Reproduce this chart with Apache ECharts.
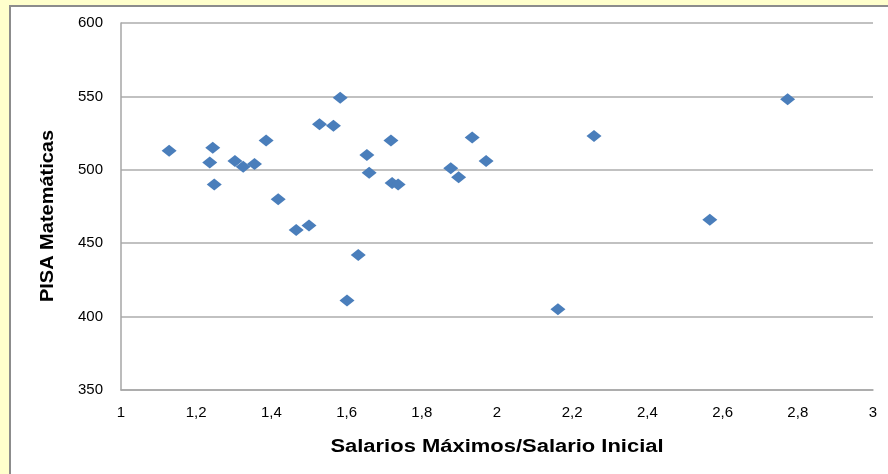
<!DOCTYPE html>
<html>
<head>
<meta charset="utf-8">
<script src="https://cdn.jsdelivr.net/npm/echarts@6/dist/echarts.min.js"></script>
<style>
  html, body { margin: 0; padding: 0; background: #FFFFCC; }
  #chart { width: 888px; height: 474px; }
</style>
</head>
<body>
<div id="chart"></div>
<script>
// Ratio of maximum to starting teacher salary (x) vs PISA mathematics score (y)
const salaryRatio = [
  1.128, 1.236, 1.244, 1.248, 1.303, 1.325, 1.355, 1.386, 1.418, 1.466,
  1.500, 1.528, 1.565, 1.583, 1.601, 1.631, 1.654, 1.660, 1.718, 1.721,
  1.737, 1.877, 1.898, 1.934, 1.971, 2.162, 2.258, 2.566, 2.773
];
const pisaMath = [
  513, 505, 515, 490, 506, 502, 504, 520, 480, 459,
  462, 531, 530, 549, 411, 442, 510, 498, 520, 491,
  490, 501, 495, 522, 506, 405, 523, 466, 548
];
const xTitle = 'Salarios Máximos/Salario Inicial';
const yTitle = 'PISA Matemáticas';

const points = salaryRatio.map((x, i) => [x, pisaMath[i]]);

const chart = echarts.init(document.getElementById('chart'));
const fontFamily = 'Liberation Sans, Arial, sans-serif';
const labelFont = { fontFamily, fontSize: 15, color: '#000' };
const titleFont = 'bold 18px ' + fontFamily;

chart.setOption({
  backgroundColor: '#FFFFCC',
  animation: false,
  graphic: [
    {
      // white chart panel with grey frame
      type: 'rect',
      z: -10,
      shape: { x: 10, y: 6, width: 890, height: 480 },
      style: { fill: '#FFFFFF', stroke: '#8C8C8C', lineWidth: 2 }
    },
    {
      // horizontal axis title (wide lettering)
      type: 'text',
      x: 497, y: 447,
      scaleX: 1.22,
      style: { text: xTitle, font: titleFont, fill: '#000', align: 'center', verticalAlign: 'middle' }
    },
    {
      // vertical axis title
      type: 'text',
      x: 48, y: 216,
      rotation: Math.PI / 2,
      scaleX: 1.11,
      style: { text: yTitle, font: titleFont, fill: '#000', align: 'center', verticalAlign: 'middle' }
    }
  ],
  grid: { left: 121, right: 15, top: 23, bottom: 84 },
  xAxis: {
    type: 'value',
    min: 1, max: 3, interval: 0.2,
    axisLine: { show: true, lineStyle: { color: '#A6A6A6', width: 1.5 } },
    axisTick: { show: false },
    splitLine: { show: false },
    axisLabel: Object.assign({
      margin: 15,
      formatter: v => String(Math.round(v * 10) / 10).replace('.', ',')
    }, labelFont)
  },
  yAxis: {
    type: 'value',
    min: 350, max: 600, interval: 50,
    axisLine: { show: true, lineStyle: { color: '#A6A6A6', width: 1.5 } },
    axisTick: { show: false },
    splitLine: { show: true, lineStyle: { color: '#ADADAD', width: 1.5 } },
    axisLabel: Object.assign({ margin: 18 }, labelFont)
  },
  series: [{
    type: 'scatter',
    data: points,
    symbol: 'diamond',
    symbolSize: [15, 12],
    itemStyle: { color: '#4A7EBB', opacity: 1 }
  }]
});
</script>
</body>
</html>
